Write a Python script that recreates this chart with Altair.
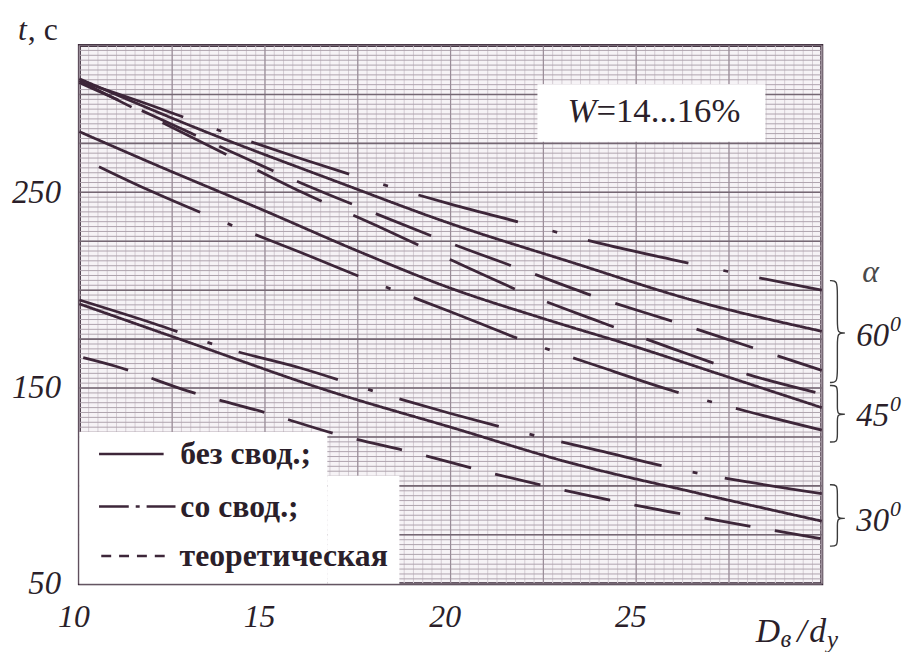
import altair as alt
import pandas as pd
import numpy as np

INK = "#2b1f2a"
LINE = "#3d2639"
SERIF = "Liberation Serif"

# ---------------- axis tick labels ----------------
X_TICKS = [10, 15, 20, 25]
Y_TICKS = [50, 150, 250]

# ---------------- curves: x = Dв/dy, t = time, s ----------------
x60_solid = [10, 13, 17, 20, 23.3, 26.5, 30]
t60_solid = [308, 284, 255, 234, 214, 195, 179]
x60_dd = [10, 12, 14, 16, 18, 20, 22, 24, 26, 28, 30]
t60_dd = [307, 294, 280, 267, 255, 244, 234, 224, 215.5, 207.5, 200]
x60_th = [10, 12, 14, 16, 18, 20, 22, 24, 26, 28, 30]
t60_th = [306, 289, 271.5, 254.5, 239, 224, 210, 196, 184, 171.5, 159]

x45_solid = [10, 12, 15, 17.5, 20, 22.5, 25, 27.5, 30]
t45_solid = [281, 264.5, 240.5, 220, 201, 185.5, 171, 155.5, 140]
x45_dd = [10, 12, 14, 16, 18, 20, 22, 24, 26, 28, 30]
t45_dd = [268, 250, 234, 219, 203.5, 189, 174, 161, 148.5, 138, 128.5]
x45_th = [10, 12.3, 14.2, 16, 18, 20, 22, 24, 26, 28, 30]
t45_th = [307, 285, 267, 250, 233, 215.5, 198.5, 184, 170, 157, 147]

x30_solid = [10, 13, 16.8, 20, 23.3, 26.5, 30]
t30_solid = [193, 173, 148, 130, 111.4, 97, 82]
x30_dd = [10, 12, 14, 16, 18, 20, 22, 24, 26, 28, 30]
t30_dd = [195, 183, 170, 160, 148, 137, 127, 118, 109, 102, 96]
x30_th = [10, 11, 13, 15, 17, 19, 21, 23, 25, 27, 30]
t30_th = [166, 161, 148, 137.5, 126, 117, 107, 98, 90, 83, 73]

curves = [
    ("60", "без свод.", x60_solid, t60_solid),
    ("60", "со свод.", x60_dd, t60_dd),
    ("60", "теоретическая", x60_th, t60_th),
    ("45", "без свод.", x45_solid, t45_solid),
    ("45", "со свод.", x45_dd, t45_dd),
    ("45", "теоретическая", x45_th, t45_th),
    ("30", "без свод.", x30_solid, t30_solid),
    ("30", "со свод.", x30_dd, t30_dd),
    ("30", "теоретическая", x30_th, t30_th),
]

# line styles (pixels), per curve
curve_style = {
    ("60", "без свод."): dict(strokeDash=[1, 0], strokeDashOffset=0),
    ("60", "со свод."): dict(strokeDash=[104, 36, 5, 32], strokeDashOffset=170),
    ("60", "теоретическая"): dict(strokeDash=[60, 26], strokeDashOffset=17),
    ("45", "без свод."): dict(strokeDash=[1, 0], strokeDashOffset=0),
    ("45", "со свод."): dict(strokeDash=[112, 30, 5, 25], strokeDashOffset=150),
    ("45", "теоретическая"): dict(strokeDash=[72, 35], strokeDashOffset=13),
    ("30", "без свод."): dict(strokeDash=[1, 0], strokeDashOffset=0),
    ("30", "со свод."): dict(strokeDash=[104, 32, 5, 28], strokeDashOffset=0),
    ("30", "теоретическая"): dict(strokeDash=[47, 25], strokeDashOffset=68),
}

# ---------------- legend (in data coordinates) ----------------
leg_names = ["без свод.;", "со  свод.;", "теоретическая"]
leg_x1 = [10.53, 10.53, 10.59]
leg_x2 = [12.27, 12.59, 12.32]
leg_t = [116.3, 89.5, 64.2]
leg_text_x = [12.72, 12.72, 12.70]
leg_text_t = [116.3, 89.3, 64.0]
leg_dash = [[1, 0], [30, 7, 4, 7], [10, 8]]

# white boxes: legend area (L-shaped) and W box
box_x1 = [10.0, 16.68, 22.34]
box_x2 = [16.68, 18.62, 28.48]
box_t1 = [50.0, 50.0, 275.8]
box_t2 = [127.5, 105.2, 305.2]

# angle groups: braces and labels
ang_labels = ["60", "45", "30"]
brace_top = [204.9, 151.3, 100.6]
brace_bot = [152.8, 122.4, 69.2]
brace_mid = [178.1, 136.6, 83.4]
ang_label_t = [176.6, 135.6, 82.0]

# ---------------- scales / axes ----------------
xs = alt.Scale(domain=[10, 30], nice=False, zero=False)
ys = alt.Scale(domain=[50, 325], nice=False, zero=False)
x_axis = alt.Axis(values=X_TICKS, title=None, grid=False, ticks=False, domain=False,
                  labelFont=SERIF, labelFontStyle="italic", labelFontSize=32,
                  labelColor=INK, labelPadding=18, labelFlush=False, labelOffset=-6)
y_axis = alt.Axis(values=Y_TICKS, title=None, grid=False, ticks=False, domain=False,
                  labelFont=SERIF, labelFontStyle="italic", labelFontSize=33,
                  labelColor=INK, labelPadding=19, labelBaseline="middle")
X = alt.X("x:Q", scale=xs, axis=x_axis)
Y = alt.Y("t:Q", scale=ys, axis=y_axis)

layers = []

# ---------------- graph-paper grid ----------------
gv_minor = pd.DataFrame({"x": np.round(np.arange(10, 30.001, 0.25), 3)})
gv_major = pd.DataFrame({"x": np.round(np.arange(10, 30.001, 2.5), 3)})
gh_minor = pd.DataFrame({"t": np.round(np.arange(50, 325.001, 2.5), 3)})
gh_major = pd.DataFrame({"t": np.round(np.arange(50, 325.001, 25), 3)})
layers.append(alt.Chart(gv_minor).mark_rule(color="#d3cbd2", strokeWidth=1).encode(x=X))
layers.append(alt.Chart(gh_minor).mark_rule(color="#aea3ad", strokeWidth=1).encode(y=Y))
layers.append(alt.Chart(gv_major).mark_rule(color="#9a8d98", strokeWidth=1.2).encode(x=X))
layers.append(alt.Chart(gh_major).mark_rule(color="#756773", strokeWidth=1.6).encode(y=Y))

# ---------------- white boxes ----------------
boxes = pd.DataFrame({"x": box_x1, "x2": box_x2, "t": box_t1, "t2": box_t2})
layers.append(alt.Chart(boxes).mark_rect(color="white").encode(
    x=X, x2="x2:Q", y=Y, y2="t2:Q"))

# ---------------- curves ----------------
for ang, kind, xv, tv in curves:
    df = pd.DataFrame({"x": xv, "t": tv})
    st = curve_style[(ang, kind)]
    layers.append(alt.Chart(df).mark_line(
        color=LINE, strokeWidth=2.8, interpolate="monotone", strokeCap="butt",
        strokeDash=st["strokeDash"], strokeDashOffset=st["strokeDashOffset"]
    ).encode(x=X, y=Y))

# ---------------- legend ----------------
for i in range(3):
    d = pd.DataFrame({"x": [leg_x1[i]], "x2": [leg_x2[i]], "t": [leg_t[i]]})
    layers.append(alt.Chart(d).mark_rule(color=LINE, strokeWidth=2.6,
                                         strokeDash=leg_dash[i]).encode(
        x=X, x2="x2:Q", y=Y))
leg_txt = pd.DataFrame({"x": leg_text_x, "t": leg_text_t, "label": leg_names})
layers.append(alt.Chart(leg_txt).mark_text(
    align="left", baseline="middle", font=SERIF, fontSize=32, fontWeight="bold",
    color=INK).encode(x=X, y=Y, text="label:N"))

# ---------------- W box text ----------------
wdf = pd.DataFrame({"x": [23.93], "t": [286.0], "a": ["W"], "b": ["=14...16%"]})
layers.append(alt.Chart(wdf).mark_text(
    align="right", baseline="alphabetic", font=SERIF, fontSize=35, fontStyle="italic",
    color=INK).encode(x=X, y=Y, text="a:N"))
layers.append(alt.Chart(wdf).mark_text(
    align="left", baseline="alphabetic", font=SERIF, fontSize=35,
    color=INK).encode(x=X, y=Y, text="b:N"))

# ---------------- axis name annotations ----------------
tdf = pd.DataFrame({"x": [8.344], "t": [328.0], "a": ["t"], "b": [", c"]})
layers.append(alt.Chart(tdf).mark_text(
    align="left", baseline="alphabetic", font=SERIF, fontSize=32, fontStyle="italic",
    color=INK).encode(x=X, y=Y, text="a:N"))
layers.append(alt.Chart(tdf).mark_text(
    align="left", baseline="alphabetic", font=SERIF, fontSize=32, dx=10,
    color=INK).encode(x=X, y=Y, text="b:N"))

ddf = pd.DataFrame({"x": [28.22], "t": [20.0], "D": ["D"], "v": ["в"], "s": ["/"],
                    "d": ["d"], "y": ["y"]})
for fld, dx, dy, fs in [("D", 0, 0, 34), ("v", 25, 5, 25), ("s", 42, 0, 34),
                        ("d", 54, 0, 34), ("y", 72, 6, 25)]:
    layers.append(alt.Chart(ddf).mark_text(
        align="left", baseline="alphabetic", font=SERIF, fontSize=fs,
        fontStyle="italic", dx=dx, dy=dy, color=INK).encode(x=X, y=Y, text=f"{fld}:N"))

# ---------------- braces and angle labels ----------------
xh, xsp, xt = 30.22, 30.42, 30.62
brace_rows = []
for k in range(3):
    top, bot, mid = brace_top[k], brace_bot[k], brace_mid[k]
    h = top - bot
    pts = [(xh, top), (xsp, top), (xsp, top - 0.12 * h), (xsp, mid + 0.1 * h),
           (xsp, mid), (xt, mid), (xt, mid), (xt, mid), (xsp, mid),
           (xsp, mid - 0.1 * h), (xsp, bot + 0.12 * h), (xsp, bot), (xh, bot)]
    for i, (px, pt) in enumerate(pts):
        brace_rows.append({"x": px, "t": pt, "g": ang_labels[k], "i": i})
bdf = pd.DataFrame(brace_rows)
layers.append(alt.Chart(bdf).mark_line(
    color="#3a3a3a", strokeWidth=1.4, interpolate="basis").encode(
    x=X, y=Y, detail="g:N", order="i:Q"))

adf = pd.DataFrame({"x": [30.93] * 3, "t": ang_label_t, "label": ang_labels,
                    "sup": ["0", "0", "0"]})
layers.append(alt.Chart(adf).mark_text(
    align="left", baseline="middle", font=SERIF, fontSize=33, fontStyle="italic",
    color=INK).encode(x=X, y=Y, text="label:N"))
layers.append(alt.Chart(adf).mark_text(
    align="left", baseline="middle", font=SERIF, fontSize=22, fontStyle="italic",
    dx=34, dy=-12, color=INK).encode(x=X, y=Y, text="sup:N"))

alpha = pd.DataFrame({"x": [31.09], "t": [209.0], "label": ["α"]})
layers.append(alt.Chart(alpha).mark_text(
    align="left", baseline="middle", font=SERIF, fontSize=32, fontStyle="italic",
    color="#4a4a4a").encode(x=X, y=Y, text="label:N"))

chart = alt.layer(*layers).properties(
    width=749, height=543,
    autosize=alt.AutoSizeParams(type="none"),
    padding={"left": 72, "top": 35, "right": 89, "bottom": 66},
    background="white",
).configure_view(stroke="#3a2838", strokeWidth=3, fill="#f6f3f6")

chart.save("out.html", embed_options={"renderer": "svg", "actions": False})
